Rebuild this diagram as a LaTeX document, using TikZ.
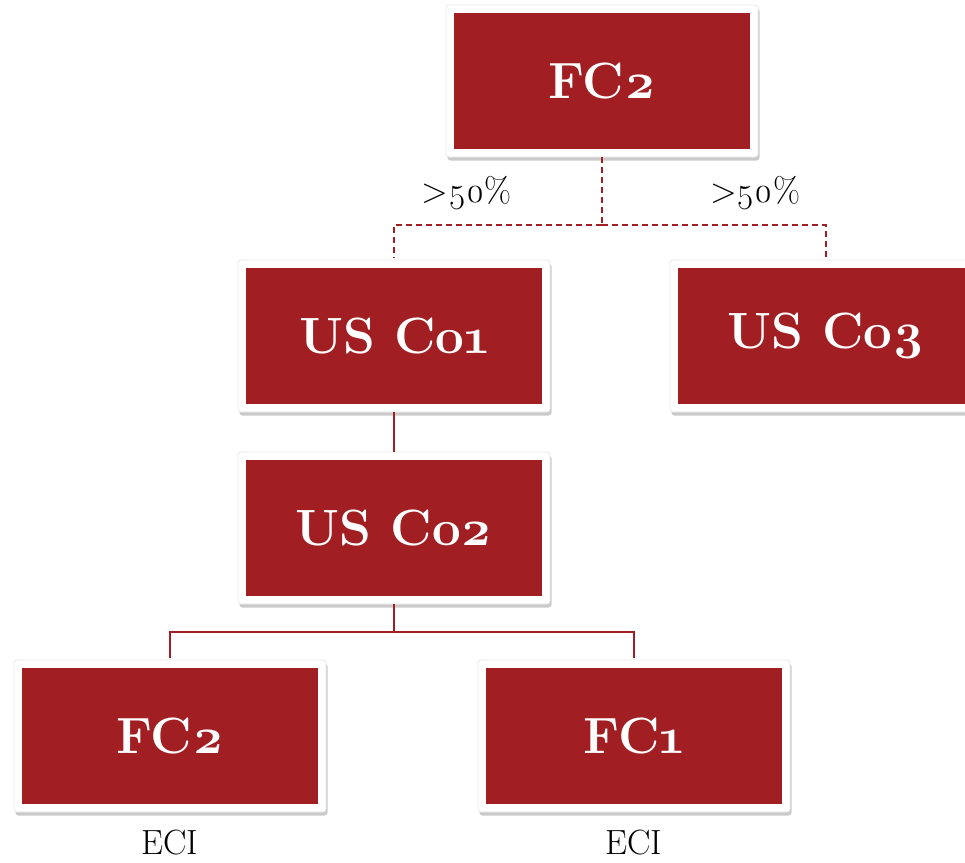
\documentclass[tikz,border=0pt]{standalone}
\usepackage{fontspec}
\setmainfont{Latin Modern Roman}[Numbers=OldStyle]
\usetikzlibrary{shadows}
\definecolor{boxred}{RGB}{161,31,34}
\tikzset{
  entity/.style={
    minimum width=312pt, minimum height=152pt, inner sep=0pt,
    fill=white, draw=black!9, line width=0.8pt, rounded corners=3pt,
    drop shadow={shadow xshift=1.5pt, shadow yshift=-3.5pt, opacity=0.35, fill=black!60},
    text=white, font=\fontsize{51}{56}\selectfont\bfseries,
    path picture={\fill[boxred, sharp corners]
      ([shift={(8pt,-8pt)}]path picture bounding box.north west) rectangle
      ([shift={(-8pt,8pt)}]path picture bounding box.south east);}
  },
  link/.style={draw=boxred, line width=1.5pt},
  share/.style={link, dash pattern=on 6pt off 4pt},
  note/.style={font=\fontsize{35}{40}\selectfont, text=black, inner sep=0pt}
}
\begin{document}
\begin{tikzpicture}[x=1pt, y=-1pt]
  \useasboundingbox (0,0) rectangle (965,862);
  \clip (0,0) rectangle (965,862);

  % branch points of the ownership links
  \coordinate (split) at (602,225);
  \coordinate (fork) at (394,632);

  \node[entity] (top) at (602,81) {FC2};
  \node[entity] (co1) at (394,336) {US Co1};
  \node[entity] (co3) at (826,336) {US Co3};
  \node[entity] (co2) at (394,528) {US Co2};
  \node[entity] (fca) at (170,736) {FC2};
  \node[entity] (fcb) at (634,736) {FC1};

  \draw[share] (top.south) -- (split);
  \draw[share] (split) -| ([yshift=2pt]co1.north);
  \draw[share] (split) -| ([yshift=2pt]co3.north);
  \draw[link] (co1.south) -- (co2.north);
  \draw[link] (co2.south) -- (fork);
  \draw[link] (fork) -| ([yshift=2pt]fca.north);
  \draw[link] (fork) -| ([yshift=2pt]fcb.north);

  \node[note] (p1) at (467,193) {>50\%};
  \node[note] (p3) at (755,193) {>50\%};
  \node[note] (e1) at (170,843) {ECI};
  \node[note] (e2) at (634,843) {ECI};
\end{tikzpicture}
\end{document}
